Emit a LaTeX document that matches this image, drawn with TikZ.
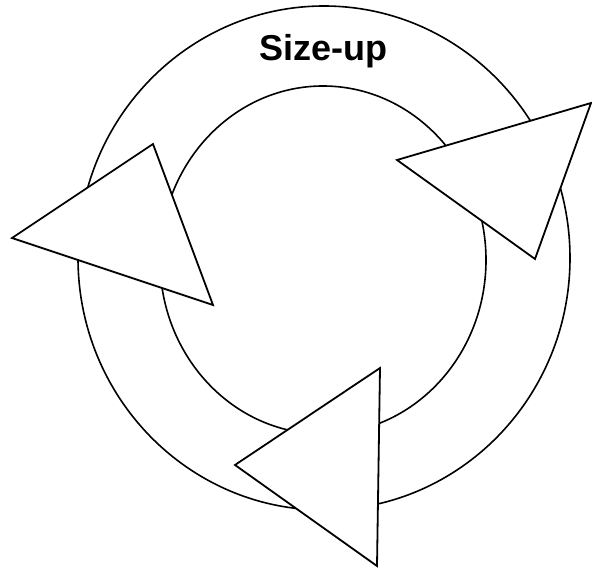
\documentclass[tikz,border=0pt]{standalone}
\usepackage{fontspec}
\newfontfamily\cyclefont{Liberation Sans}
\usetikzlibrary{positioning}

\begin{document}
\begin{tikzpicture}[
  x=1pt,y=-1pt,
  ring/.style={draw,line width=1.6pt},
  pointer/.style={draw,fill=white,line width=1.8pt,line join=miter},
  title/.style={font=\cyclefont\bfseries\fontsize{36}{40}\selectfont}
]
\useasboundingbox (0,0) rectangle (592,569);
% the two rings
\draw[ring] (324,258) ellipse[x radius=246,y radius=252];
\draw[ring] (323,260) ellipse[x radius=163,y radius=174];
\node[title] (size) at (323,51) {Size-up};
% corner points of the three pointers
\coordinate (l1) at (12,238);
\coordinate (l2) at (153,144);
\coordinate (l3) at (213,305);
\coordinate (r1) at (397,160);
\coordinate (r2) at (591,103);
\coordinate (r3) at (535,259);
\coordinate (b1) at (235,465);
\coordinate (b2) at (380,368);
\coordinate (b3) at (377,566);
\draw[pointer] (l1) -- (l2) -- (l3) -- cycle;
\draw[pointer] (r1) -- (r2) -- (r3) -- cycle;
\draw[pointer] (b1) -- (b2) -- (b3) -- cycle;
\end{tikzpicture}
\end{document}
